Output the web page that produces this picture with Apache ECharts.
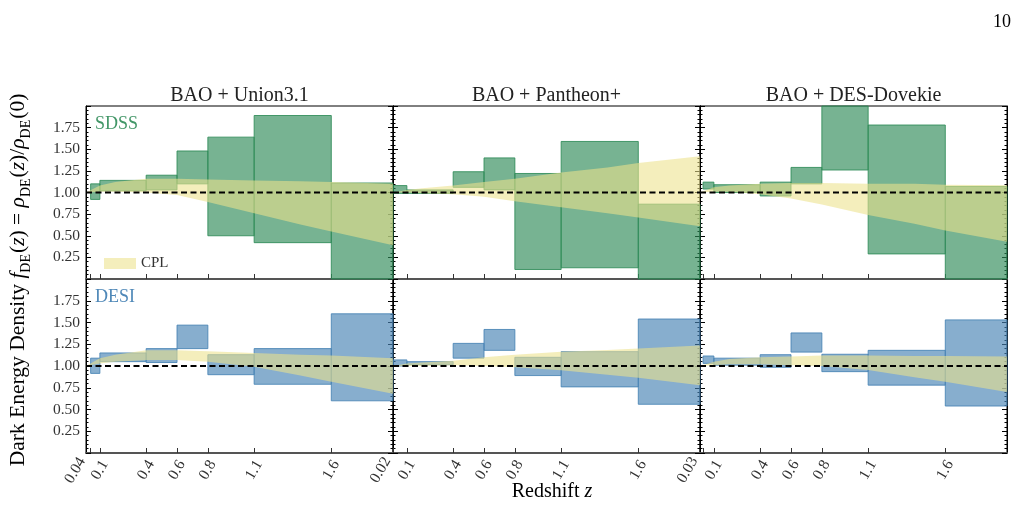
<!DOCTYPE html>
<html>
<head>
<meta charset="utf-8">
<script src="https://cdn.jsdelivr.net/npm/echarts@6/dist/echarts.min.js"></script>
<style>
  html, body { margin: 0; padding: 0; background: #fff; }
  #chart { width: 1021px; height: 506px; }
</style>
</head>
<body>
<div id="chart"></div>
<script>
const FONT = 'Liberation Serif'

// x range shared by every panel
const zMin = 0.01
const zMax = 2.0
const refLevel = 1.0

// redshift bin edges per supernova sample
const edgesUnion = [0.04, 0.1, 0.4, 0.6, 0.8, 1.1, 1.6, 2.0]
const edgesPantheon = [0.01, 0.1, 0.4, 0.6, 0.8, 1.1, 1.6, 2.0]
const edgesDES = [0.03, 0.1, 0.4, 0.6, 0.8, 1.1, 1.6, 2.0]

// binned f_DE, lower and upper ends of each box (SDSS)
const sdssUnionLo = [0.92, 1.02, 1.03, 1.10, 0.50, 0.42, 0.00]
const sdssUnionHi = [1.10, 1.14, 1.20, 1.48, 1.64, 1.89, 1.11]
const sdssPantheonLo = [0.99, 0.99, 1.06, 1.03, 0.11, 0.13, 0.00]
const sdssPantheonHi = [1.08, 1.03, 1.24, 1.40, 1.22, 1.59, 0.865]
const sdssDESLo = [1.04, 1.00, 0.96, 1.10, 1.26, 0.29, 0.00]
const sdssDESHi = [1.12, 1.09, 1.12, 1.29, 2.00, 1.78, 1.07]

// binned f_DE (DESI)
const desiUnionLo = [0.915, 1.05, 1.04, 1.20, 0.90, 0.79, 0.60]
const desiUnionHi = [1.09, 1.15, 1.20, 1.47, 1.13, 1.20, 1.60]
const desiPantheonLo = [1.00, 1.015, 1.09, 1.18, 0.89, 0.76, 0.56]
const desiPantheonHi = [1.07, 1.05, 1.26, 1.42, 1.10, 1.165, 1.54]
const desiDESLo = [1.03, 1.01, 0.985, 1.16, 0.935, 0.78, 0.54]
const desiDESHi = [1.115, 1.09, 1.13, 1.38, 1.135, 1.18, 1.53]

// CPL band read at these redshifts
const cplZ = [0.01, 0.1, 0.2, 0.4, 0.6, 0.8, 1.1, 1.4, 1.6, 2.0]
const cplSdssUnionUp = [1.00, 1.08, 1.12, 1.16, 1.16, 1.15, 1.14, 1.13, 1.12, 1.10]
const cplSdssUnionLo = [1.00, 1.01, 1.01, 1.00, 0.97, 0.89, 0.76, 0.63, 0.55, 0.39]
const cplSdssPantheonUp = [1.00, 1.03, 1.05, 1.08, 1.12, 1.16, 1.23, 1.29, 1.34, 1.42]
const cplSdssPantheonLo = [1.00, 1.00, 0.99, 0.98, 0.95, 0.90, 0.83, 0.76, 0.71, 0.61]
const cplSdssDESUp = [1.00, 1.06, 1.08, 1.10, 1.11, 1.11, 1.10, 1.10, 1.09, 1.085]
const cplSdssDESLo = [1.00, 1.01, 1.01, 0.98, 0.93, 0.86, 0.74, 0.64, 0.56, 0.43]
const cplDesiUnionUp = [1.00, 1.09, 1.13, 1.18, 1.18, 1.17, 1.15, 1.13, 1.12, 1.09]
const cplDesiUnionLo = [1.00, 1.03, 1.05, 1.07, 1.07, 1.05, 0.99, 0.89, 0.82, 0.68]
const cplDesiPantheonUp = [1.00, 1.03, 1.04, 1.06, 1.10, 1.13, 1.165, 1.185, 1.20, 1.235]
const cplDesiPantheonLo = [1.00, 1.00, 1.00, 1.01, 1.00, 0.985, 0.95, 0.90, 0.865, 0.78]
const cplDesiDESUp = [1.00, 1.05, 1.08, 1.10, 1.11, 1.12, 1.12, 1.115, 1.115, 1.11]
const cplDesiDESLo = [1.00, 1.01, 1.02, 1.02, 1.01, 1.00, 0.955, 0.87, 0.82, 0.70]

// tick labels
const yTickVals = [0.25, 0.5, 0.75, 1.0, 1.25, 1.5, 1.75]
const xTicksUnion = [0.04, 0.1, 0.4, 0.6, 0.8, 1.1, 1.6]
const xTicksPantheon = [0.01, 0.1, 0.4, 0.6, 0.8, 1.1, 1.6]
const xTicksDES = [0.03, 0.1, 0.4, 0.6, 0.8, 1.1, 1.6]
const xLabelValsUnion = [0.04, 0.1, 0.4, 0.6, 0.8, 1.1, 1.6, 1.92]
const xLabelTextUnion = ['0.04', '0.1', '0.4', '0.6', '0.8', '1.1', '1.6', '0.02']
const xLabelValsPantheon = [0.1, 0.4, 0.6, 0.8, 1.1, 1.6, 1.92]
const xLabelTextPantheon = ['0.1', '0.4', '0.6', '0.8', '1.1', '1.6', '0.03']
const xLabelValsDES = [0.1, 0.4, 0.6, 0.8, 1.1, 1.6]
const xLabelTextDES = ['0.1', '0.4', '0.6', '0.8', '1.1', '1.6']

const colTitles = ['BAO + Union3.1', 'BAO + Pantheon+', 'BAO + DES-Dovekie']

const green = { fill: 'rgba(46,139,87,0.65)', edge: 'rgba(46,139,87,0.85)', text: 'rgba(46,139,87,0.9)' }
const blue = { fill: 'rgba(70,130,180,0.65)', edge: 'rgba(70,130,180,0.85)', text: 'rgba(70,130,180,0.95)' }
const cplColor = 'rgba(236,226,140,0.58)'

const colLeft = [86, 393, 700]
const colWidth = 307
const rowTop = [106, 279]
const rowHeight = [173, 174]

const panels = [
  { row: 0, col: 0, edges: edgesUnion, lo: sdssUnionLo, hi: sdssUnionHi, up: cplSdssUnionUp, down: cplSdssUnionLo, c: green },
  { row: 0, col: 1, edges: edgesPantheon, lo: sdssPantheonLo, hi: sdssPantheonHi, up: cplSdssPantheonUp, down: cplSdssPantheonLo, c: green },
  { row: 0, col: 2, edges: edgesDES, lo: sdssDESLo, hi: sdssDESHi, up: cplSdssDESUp, down: cplSdssDESLo, c: green },
  { row: 1, col: 0, edges: edgesUnion, lo: desiUnionLo, hi: desiUnionHi, up: cplDesiUnionUp, down: cplDesiUnionLo, c: blue },
  { row: 1, col: 1, edges: edgesPantheon, lo: desiPantheonLo, hi: desiPantheonHi, up: cplDesiPantheonUp, down: cplDesiPantheonLo, c: blue },
  { row: 1, col: 2, edges: edgesDES, lo: desiDESLo, hi: desiDESHi, up: cplDesiDESUp, down: cplDesiDESLo, c: blue }
]

const xTicks = [xTicksUnion, xTicksPantheon, xTicksDES]
const xLabelVals = [xLabelValsUnion, xLabelValsPantheon, xLabelValsDES]
const xLabelText = [xLabelTextUnion, xLabelTextPantheon, xLabelTextDES]

const grid = []
const xAxis = []
const yAxis = []
const series = []

panels.forEach((p, i) => {
  grid.push({
    left: colLeft[p.col], top: rowTop[p.row], width: colWidth, height: rowHeight[p.row],
    show: true, borderColor: '#000', borderWidth: 1, backgroundColor: 'transparent'
  })

  const vals = xLabelVals[p.col]
  const texts = xLabelText[p.col]
  xAxis.push({
    gridIndex: i, type: 'value', min: zMin, max: zMax,
    splitLine: { show: false },
    axisLine: { lineStyle: { color: '#555', width: 2 } },
    axisTick: { inside: true, length: 5, customValues: xTicks[p.col], lineStyle: { color: '#333', width: 1 } },
    axisLabel: {
      show: p.row === 1, customValues: vals, rotate: 60, margin: 17,
      align: 'center', verticalAlign: 'middle',
      fontFamily: FONT, fontSize: 15.5, color: '#333',
      formatter: v => {
        let k = 0
        vals.forEach((x, j) => { if (Math.abs(x - v) < Math.abs(vals[k] - v)) k = j })
        return k === 0 && p.col === 0 ? '{s|' + texts[k] + '}' : texts[k]
      },
      rich: { s: { fontFamily: FONT, fontSize: 15.5, color: '#333', padding: [0, 16, 26, 0] } }
    }
  })

  const yBase = {
    gridIndex: i, type: 'value', min: 0, max: 2, interval: 0.25,
    splitLine: { show: false },
    axisLine: { show: true, lineStyle: { color: '#000', width: 1 } },
    axisTick: { inside: true, length: 5, lineStyle: { color: '#000' } },
    minorTick: { show: true, splitNumber: 5, length: 2.5, lineStyle: { color: '#000' } }
  }
  yAxis.push(Object.assign({}, yBase, {
    position: 'left',
    axisLabel: {
      show: p.col === 0, customValues: yTickVals, margin: 6,
      fontFamily: FONT, fontSize: 15.5, color: '#333',
      formatter: v => v.toFixed(2)
    }
  }))
  yAxis.push(Object.assign({}, yBase, { position: 'right', axisLabel: { show: false } }))

  // binned boxes
  series.push({
    type: 'custom', name: 'bins' + i, xAxisIndex: i, yAxisIndex: 2 * i, z: 2,
    data: p.lo.map((l, j) => [p.edges[j], p.edges[j + 1], l, p.hi[j]]),
    encode: { x: [0, 1], y: [2, 3] },
    renderItem: (params, api) => {
      const a = api.coord([api.value(0), api.value(3)])
      const b = api.coord([api.value(1), api.value(2)])
      return {
        type: 'rect',
        shape: { x: a[0], y: a[1], width: b[0] - a[0], height: b[1] - a[1] },
        style: { fill: p.c.fill, stroke: p.c.edge, lineWidth: 1 }
      }
    }
  })

  // CPL band
  series.push({
    type: 'custom', name: i === 0 ? 'CPL' : 'CPL band ' + i, xAxisIndex: i, yAxisIndex: 2 * i, z: 3,
    itemStyle: { color: cplColor },
    data: cplZ.map((z, j) => [z, p.down[j], p.up[j]]),
    encode: { x: 0, y: [1, 2] },
    renderItem: (params, api) => {
      if (params.dataIndex !== 0) return null
      const top = cplZ.map((z, j) => api.coord([z, p.up[j]]))
      const bot = cplZ.map((z, j) => api.coord([z, p.down[j]])).reverse()
      return { type: 'polygon', shape: { points: top.concat(bot) }, style: { fill: cplColor } }
    }
  })

  // reference line at f_DE = 1
  series.push({
    type: 'line', xAxisIndex: i, yAxisIndex: 2 * i, z: 4, symbol: 'none', silent: true,
    data: [[zMin, refLevel], [zMax, refLevel]],
    lineStyle: { color: '#000', width: 2, type: [6, 3.5] }
  })
})

const graphic = [
  { type: 'text', x: 1002, y: 22, style: { text: '10', font: '18px ' + FONT, fill: '#000', align: 'center', verticalAlign: 'middle' } },
  { type: 'text', x: 552, y: 492, style: { text: '{n|Redshift }{i|z}', align: 'center', verticalAlign: 'middle',
      rich: { n: { fontFamily: FONT, fontSize: 20, color: '#222' }, i: { fontFamily: FONT, fontStyle: 'italic', fontSize: 20, color: '#222' } } } },
  { type: 'text', x: 95, y: 124, style: { text: 'SDSS', font: '18px ' + FONT, fill: green.text, verticalAlign: 'middle' } },
  { type: 'text', x: 95, y: 297, style: { text: 'DESI', font: '18px ' + FONT, fill: blue.text, verticalAlign: 'middle' } },
  {
    type: 'text', x: 18, y: 280, rotation: Math.PI / 2,
    style: {
      align: 'center', verticalAlign: 'middle',
      text: '{n|Dark Energy Density }{i|f}{s|DE}{n|(}{i|z}{n|) = }{i|ρ}{s|DE}{n|(}{i|z}{n|)/}{i|ρ}{s|DE}{n|(0)}',
      rich: {
        n: { fontFamily: FONT, fontSize: 21.5, color: '#222', lineHeight: 30, verticalAlign: 'middle' },
        i: { fontFamily: FONT, fontStyle: 'italic', fontSize: 21.5, color: '#222', lineHeight: 30, verticalAlign: 'middle' },
        s: { fontFamily: FONT, fontSize: 14, color: '#222', lineHeight: 30, verticalAlign: 'bottom', padding: [0, 1, 0, 0] }
      }
    }
  }
]
colTitles.forEach((t, c) => {
  graphic.push({ type: 'text', x: colLeft[c] + colWidth / 2, y: 96, style: { text: t, font: '20px ' + FONT, fill: '#222', align: 'center', verticalAlign: 'middle' } })
})

const chart = echarts.init(document.getElementById('chart'), null, { renderer: 'canvas' })
chart.setOption({
  animation: false,
  backgroundColor: '#fff',
  legend: {
    data: [{ name: 'CPL', icon: 'rect', itemStyle: { color: cplColor, borderWidth: 0 } }],
    left: 99, top: 251, itemWidth: 32, itemHeight: 11, itemGap: 9, selectedMode: false,
    textStyle: { fontFamily: FONT, fontSize: 15, color: '#333' }
  },
  grid, xAxis, yAxis, series, graphic
})
window.addEventListener('resize', () => chart.resize())
</script>
</body>
</html>
